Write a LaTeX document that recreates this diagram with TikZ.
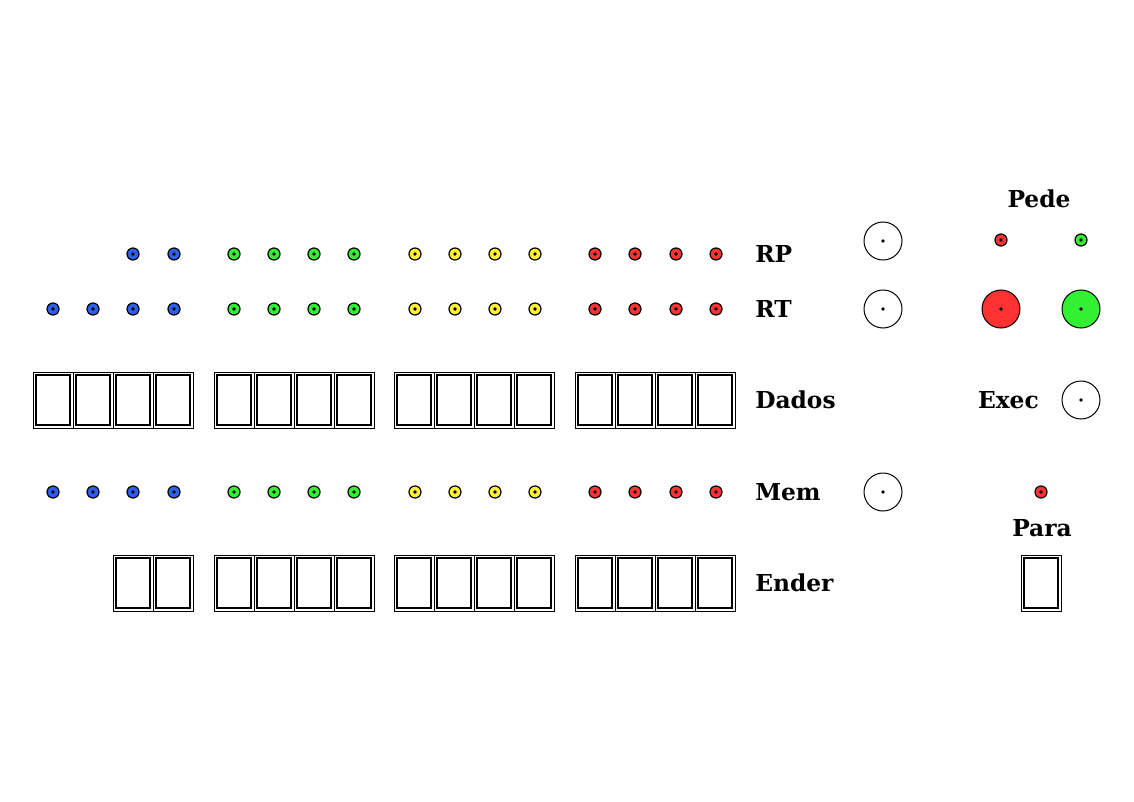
\documentclass[tikz,border=0pt]{standalone}
\usepackage{fontspec}
\setmainfont{DejaVu Serif}
\definecolor{cblue}{RGB}{45,95,240}
\definecolor{cgreen}{RGB}{50,240,50}
\definecolor{cyellow}{RGB}{255,240,50}
\definecolor{cred}{RGB}{255,50,50}
\tikzset{
  led/.style={circle,draw=black,line width=0.9pt,minimum size=9pt,inner sep=0pt,
    path picture={\fill[black] (path picture bounding box.center) circle (1.4pt);}},
  bigled/.style={circle,draw=black,line width=0.75pt,minimum size=28.5pt,inner sep=0pt,
    path picture={\fill[black] (path picture bounding box.center) circle (1.4pt);}},
  cell/.style={draw=black,line width=0.75pt,minimum width=30pt,minimum height=42pt,inner sep=0pt,
    path picture={\draw[line width=0.9pt] ([shift={(2.3pt,-2.3pt)}]path picture bounding box.north west) rectangle ([shift={(-2.3pt,2.3pt)}]path picture bounding box.south east);}},
  lbl/.style={font=\fontsize{17.5}{21}\selectfont\bfseries,inner sep=0pt},
}
\begin{document}
\begin{tikzpicture}[x=0.75pt,y=-0.75pt]
\useasboundingbox (0,0) rectangle (1134,802);
% LED rows
\foreach \x/\c [count=\i] in {53/cblue,93/cblue,133/cblue,174/cblue,234/cgreen,274/cgreen,314/cgreen,354/cgreen,415/cyellow,455/cyellow,495/cyellow,535/cyellow,595/cred,635/cred,676/cred,716/cred}{
  \ifnum\i>2 \node[led,fill=\c] (rp\i) at (\x,254) {};\fi
  \node[led,fill=\c] (rt\i) at (\x,309) {};
  \node[led,fill=\c] (mem\i) at (\x,492) {};
}
% cells
\foreach \x [count=\i] in {53,93,133,173,234,274,314,354,414,454,494,534,595,635,675,715}{
  \node[cell] (dados\i) at (\x,400) {};
  \ifnum\i>2 \node[cell] (ender\i) at (\x,583) {};\fi
}
% labels
\node[lbl,anchor=west] (lrp) at (755,254) {RP};
\node[lbl,anchor=west] (lrt) at (755,309) {RT};
\node[lbl,anchor=west] (ldados) at (755,400) {Dados};
\node[lbl,anchor=west] (lmem) at (755,492) {Mem};
\node[lbl,anchor=west] (lender) at (755,583) {Ender};
% big circles
\node[bigled] (crp) at (883,241) {};
\node[bigled] (crt) at (883,309) {};
\node[bigled] (cmem) at (883,492) {};
\node[bigled] (cexec) at (1081,400) {};
\node[lbl,anchor=east] (lexec) at (1039,400) {Exec};
% Pede
\node[lbl] (lpede) at (1039,199) {Pede};
\node[led,fill=cred] (pr) at (1001,240) {};
\node[led,fill=cgreen] (pg) at (1081,240) {};
\node[bigled,fill=cred] (pbr) at (1001,309) {};
\node[bigled,fill=cgreen] (pbg) at (1081,309) {};
% Para
\node[led,fill=cred] (para) at (1041,492) {};
\node[lbl] (lpara) at (1042,528) {Para};
\node[cell] (parabox) at (1041,583) {};
\end{tikzpicture}
\end{document}
